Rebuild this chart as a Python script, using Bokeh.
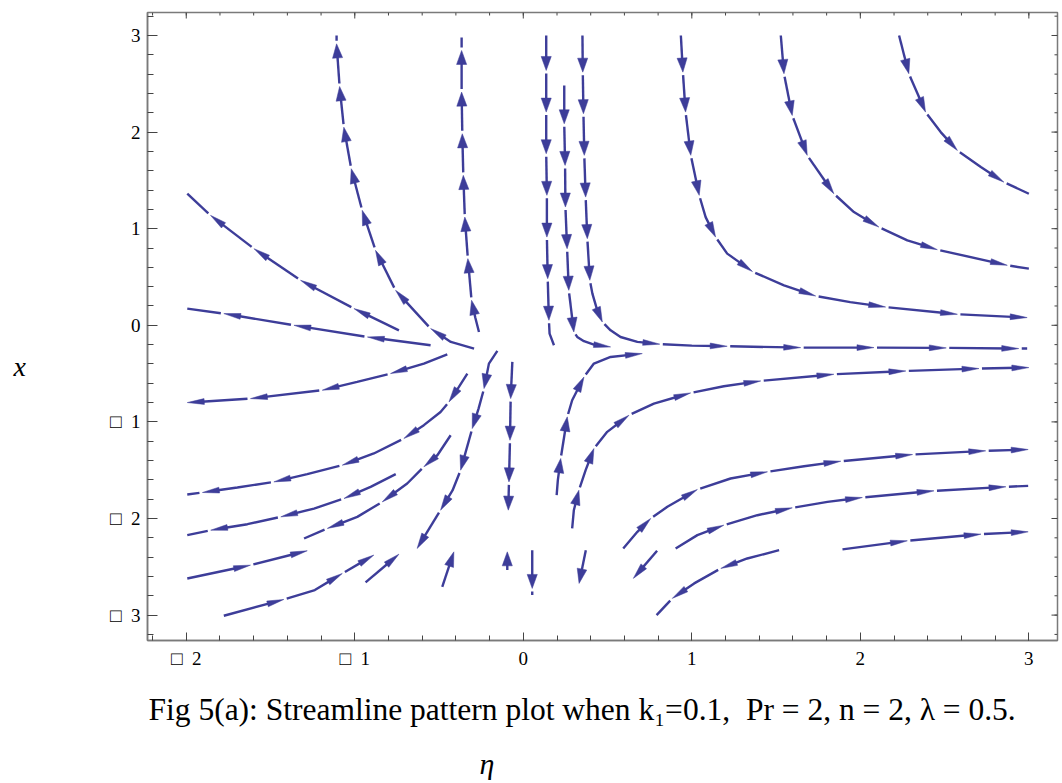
import numpy as np
from bokeh.plotting import figure
from bokeh.models import Range1d, FixedTicker, Title
from bokeh.embed import file_html
from bokeh.resources import INLINE

# ---------------- data ----------------
x_ticks = [-2, -1, 0, 1, 2, 3]
x_tick_labels = ["\u25a1\u00a0\u00a02", "\u25a1\u00a0\u00a01", "0", "1", "2", "3"]
y_ticks = [-3, -2, -1, 0, 1, 2, 3]
y_tick_labels = ["\u25a1\u00a0\u00a03", "\u25a1\u00a0\u00a02", "\u25a1\u00a0\u00a01", "0", "1", "2", "3"]

# streamlines: (eta, x, arrow-tip flag) in flow order
s_up_a = [(-0.292, -0.241, 0), (-0.43, -0.172, 0), (-0.55, -0.034, 1), (-0.649, 0.155, 0),
          (-0.758, 0.362, 1), (-0.877, 0.776, 1), (-0.956, 1.190, 1), (-1.021, 1.621, 1),
          (-1.065, 2.051, 1), (-1.090, 2.472, 1), (-1.108, 2.914, 1), (-1.108, 3.0, 0)]
s_up_b = [(-0.263, -0.069, 0), (-0.285, 0.08, 0), (-0.307, 0.259, 1), (-0.329, 0.690, 1),
          (-0.347, 1.120, 1), (-0.356, 1.552, 1), (-0.362, 1.983, 1), (-0.366, 2.414, 1),
          (-0.366, 2.845, 1), (-0.366, 2.98, 0)]
s_left_a = [(-0.738, -0.052, 0), (-1.005, 0.173, 1), (-1.322, 0.466, 1), (-1.598, 0.793, 1),
            (-1.856, 1.138, 1), (-1.994, 1.362, 0)]
s_left_b = [(-0.55, -0.207, 0), (-0.925, -0.121, 1), (-1.361, 0.0, 1), (-1.777, 0.121, 1),
            (-1.994, 0.173, 0)]
s_down_a = [(0.136, 3.0, 0), (0.136, 2.638, 1), (0.136, 2.207, 1), (0.136, 1.776, 1),
            (0.14, 1.345, 1), (0.14, 0.913, 1), (0.145, 0.483, 1), (0.152, 0.052, 1),
            (0.156, -0.086, 0), (0.182, -0.207, 0)]
s_down_b = [(0.243, 2.483, 0), (0.243, 2.086, 1), (0.248, 1.655, 1), (0.25, 1.224, 1),
            (0.26, 0.793, 1), (0.27, 0.362, 1), (0.30, -0.069, 1), (0.32, -0.12, 0),
            (0.36, -0.165, 0), (0.419, -0.2, 0), (0.518, -0.224, 1)]
s_down_c = [(0.351, 3.0, 0), (0.353, 2.62, 1), (0.357, 2.19, 1), (0.362, 1.759, 1),
            (0.37, 1.327, 1), (0.38, 0.897, 1), (0.395, 0.466, 1), (0.41, 0.328, 0),
            (0.439, 0.155, 0), (0.469, 0.034, 1), (0.518, -0.052, 0), (0.577, -0.121, 0),
            (0.677, -0.172, 0), (0.81, -0.195, 1), (1.0, -0.21, 0), (1.21, -0.217, 1),
            (1.646, -0.231, 1), (2.081, -0.231, 1), (2.51, -0.234, 1), (2.94, -0.241, 1),
            (2.99, -0.241, 0)]
s_right_a = [(0.935, 3.0, 0), (0.947, 2.62, 1), (0.963, 2.207, 1), (0.994, 1.759, 1),
             (1.044, 1.345, 1), (1.082, 1.12, 0), (1.141, 0.913, 1), (1.21, 0.742, 0),
             (1.36, 0.556, 1), (1.547, 0.414, 0), (1.735, 0.303, 1), (1.94, 0.24, 0),
             (2.15, 0.189, 1), (2.576, 0.114, 1), (2.99, 0.080, 1)]
s_right_b = [(1.528, 3.0, 0), (1.547, 2.604, 1), (1.596, 2.172, 1), (1.685, 1.759, 1),
             (1.843, 1.362, 1), (1.962, 1.172, 0), (2.11, 1.017, 1), (2.279, 0.879, 0),
             (2.457, 0.783, 1), (2.872, 0.621, 1), (3.0, 0.586, 0)]
s_right_c = [(2.23, 3.0, 0), (2.288, 2.604, 1), (2.387, 2.207, 1), (2.477, 2.0, 0),
             (2.576, 1.81, 1), (2.715, 1.638, 0), (2.852, 1.482, 1), (3.0, 1.362, 0)]
s_left_c = [(-0.451, -0.30, 0), (-0.59, -0.396, 0), (-0.788, -0.5, 1), (-0.986, -0.586, 0),
            (-1.193, -0.672, 1), (-1.619, -0.759, 1), (-1.994, -0.80, 1)]
s_left_d = [(-0.332, -0.5, 0), (-0.382, -0.638, 0), (-0.441, -0.793, 1), (-0.491, -0.897, 0),
            (-0.590, -1.034, 0), (-0.709, -1.172, 1), (-0.887, -1.327, 0), (-1.074, -1.448, 1),
            (-1.282, -1.541, 0), (-1.48, -1.621, 1), (-1.697, -1.679, 0), (-1.904, -1.731, 1),
            (-1.994, -1.752, 0)]
s_left_e = [(-0.431, -1.138, 0), (-0.51, -1.345, 0), (-0.590, -1.465, 1), (-0.689, -1.638, 0),
            (-0.837, -1.828, 1), (-0.985, -1.983, 0), (-1.163, -2.103, 1), (-1.301, -2.207, 0)]
s_left_f = [(-0.757, -1.541, 0), (-0.906, -1.672, 0), (-1.064, -1.793, 1), (-1.242, -1.897, 0),
            (-1.439, -1.983, 1), (-1.637, -2.059, 0), (-1.855, -2.121, 1), (-1.994, -2.172, 0)]
s_down_d = [(-0.154, -0.265, 0), (-0.204, -0.397, 0), (-0.233, -0.655, 1), (-0.265, -0.86, 0),
            (-0.303, -1.069, 1), (-0.372, -1.5, 1), (-0.42, -1.71, 0), (-0.491, -1.914, 1),
            (-0.630, -2.31, 1)]
s_down_e = [(-0.065, -0.379, 0), (-0.075, -0.759, 1), (-0.079, -1.19, 1), (-0.085, -1.621, 1),
            (-0.089, -1.914, 1)]
s_up_c = [(-0.095, -2.534, 0), (-0.095, -2.345, 1)]
s_down_f = [(0.053, -2.328, 0), (0.053, -2.724, 1), (0.053, -2.793, 0)]
s_up_d = [(-0.481, -2.707, 0), (-0.412, -2.345, 1)]
s_up_e = [(-0.936, -2.662, 0), (-0.738, -2.369, 1)]
s_right_d = [(-1.777, -3.007, 0), (-1.421, -2.838, 1), (-1.237, -2.741, 0), (-1.074, -2.569, 1),
             (-0.887, -2.379, 1)]
s_right_e = [(-1.994, -2.621, 0), (-1.619, -2.483, 1), (-1.282, -2.334, 1)]
s_up_f = [(0.198, -1.759, 0), (0.205, -1.603, 0), (0.222, -1.379, 1), (0.261, -0.948, 1),
          (0.29, -0.776, 0), (0.36, -0.535, 1), (0.419, -0.396, 0), (0.518, -0.328, 0),
          (0.706, -0.293, 1)]
s_right_f = [(0.29, -2.103, 0), (0.30, -1.914, 0), (0.33, -1.707, 1), (0.37, -1.5, 0),
             (0.419, -1.276, 1), (0.498, -1.103, 0), (0.627, -0.931, 1), (0.775, -0.81, 0),
             (0.993, -0.7, 1), (1.19, -0.631, 0), (1.409, -0.576, 1), (1.843, -0.507, 1),
             (2.27, -0.473, 1), (2.704, -0.448, 1), (3.0, -0.438, 1)]
s_right_g = [(0.593, -2.31, 0), (0.677, -2.138, 0), (0.756, -2.0, 1), (0.855, -1.879, 0),
             (1.033, -1.7, 1), (1.23, -1.586, 0), (1.449, -1.517, 1), (1.666, -1.459, 0),
             (1.884, -1.407, 1), (2.31, -1.338, 1), (2.744, -1.3, 1), (2.996, -1.286, 1)]
s_right_h = [(0.904, -2.31, 0), (1.033, -2.172, 0), (1.19, -2.069, 1), (1.389, -1.966, 0),
             (1.596, -1.89, 1), (1.805, -1.828, 0), (2.012, -1.783, 1), (2.437, -1.714, 1),
             (2.864, -1.672, 1), (2.996, -1.662, 0)]
s_left_g = [(0.794, -2.334, 0), (0.653, -2.62, 1)]
s_left_h = [(1.518, -2.328, 0), (1.329, -2.414, 0), (1.172, -2.517, 1), (1.014, -2.672, 0),
            (0.884, -2.827, 1), (0.791, -3.0, 0)]
s_right_i = [(1.894, -2.320, 0), (2.279, -2.231, 1), (2.716, -2.162, 1), (2.996, -2.138, 1)]
s_down_g = [(0.371, -2.328, 0), (0.331, -2.672, 1)]

streams = [s_up_a, s_up_b, s_left_a, s_left_b, s_down_a, s_down_b, s_down_c, s_right_a,
           s_right_b, s_right_c, s_left_c, s_left_d, s_left_e, s_left_f, s_down_d, s_down_e,
           s_up_c, s_down_f, s_up_d, s_up_e, s_right_d, s_right_e, s_up_f, s_right_f,
           s_right_g, s_right_h, s_left_g, s_left_h, s_right_i, s_down_g]

caption = ("Fig 5(a): Streamline pattern plot when k\u2081=0.1,\u00a0\u00a0Pr = 2, n = 2, "
           "\u03bb = 0.5.")

# ---------------- layout / style ----------------
X0, X1 = -2.23, 3.17
Y0, Y1 = -3.263, 3.238
FW, FH = 910, 628
LEFT, TOP = 147, 12
SX = FW / (X1 - X0)
SY = FH / (Y1 - Y0)
COLOR = "#3d3d99"
GAP = 3.0      # px gap after each arrow tip
HW = 0.030     # half width of arrow heads (data units)

line_xs, line_ys, head_xs, head_ys = [], [], [], []


def add_stream(pts):
    a = np.array(pts, dtype=float)
    P = np.column_stack([(a[:, 0] - X0) * SX, (a[:, 1] - Y0) * SY])
    flags = a[:, 2] > 0
    seg = np.hypot(*np.diff(P, axis=0).T)
    s = np.concatenate([[0.0], np.cumsum(seg)])
    total = s[-1]

    def at(t):
        t = min(max(t, 0.0), total)
        k = int(np.searchsorted(s, t, side="right")) - 1
        k = min(max(k, 0), len(P) - 2)
        L = s[k + 1] - s[k]
        f = (t - s[k]) / L if L > 0 else 0.0
        return P[k] + f * (P[k + 1] - P[k])

    def piece(t0, t1):
        q = [at(t0)] + [P[k] for k in range(len(P)) if t0 < s[k] < t1] + [at(t1)]
        return np.array(q)

    start = 0.0
    for i in np.where(flags)[0]:
        tip = P[i]
        back = at(s[i] - 10.0)
        d = tip - back
        d = d / np.hypot(*d)
        L = 14.0 + 3.0 * abs(d[0])
        n = np.array([-d[1], d[0]])
        hw = HW / np.hypot(n[0] / SX, n[1] / SY)
        base = tip - d * L
        tri = np.array([tip, base + n * hw, base - n * hw])
        head_xs.append(list(tri[:, 0] / SX + X0))
        head_ys.append(list(tri[:, 1] / SY + Y0))
        end = s[i] - 0.6 * L
        if end > start:
            q = piece(start, end)
            line_xs.append(list(q[:, 0] / SX + X0))
            line_ys.append(list(q[:, 1] / SY + Y0))
        start = s[i] + GAP
    if start < total - 0.5:
        q = piece(start, total)
        line_xs.append(list(q[:, 0] / SX + X0))
        line_ys.append(list(q[:, 1] / SY + Y0))


for st in streams:
    add_stream(st)

p = figure(frame_width=FW, frame_height=FH, x_range=Range1d(X0, X1), y_range=Range1d(Y0, Y1),
           output_backend="svg", toolbar_location=None,
           min_border_left=LEFT, min_border_top=TOP, min_border_right=3, min_border_bottom=143,
           background_fill_color="white", border_fill_color="white")
AX_COL = "#7a7a7a"
TK_COL = "#444444"
p.outline_line_color = AX_COL
p.outline_line_width = 1.5
p.grid.visible = False

p.multi_line(line_xs, line_ys, line_color=COLOR, line_width=2.4)
p.patches(head_xs, head_ys, fill_color=COLOR, line_color=COLOR, line_width=0.5)

x_minor = list(np.round(np.arange(-2.2, 3.21, 0.2), 2))
y_minor = list(np.round(np.arange(-3.2, 3.21, 0.2), 2))


def style(ax, tin, mtin):
    ax.axis_line_color = AX_COL
    ax.axis_line_width = 1.5
    ax.major_tick_in = tin
    ax.major_tick_out = 0
    ax.minor_tick_in = mtin
    ax.minor_tick_out = 0
    ax.major_tick_line_color = TK_COL
    ax.minor_tick_line_color = TK_COL
    ax.major_label_text_font = "Liberation Serif"
    ax.major_label_text_font_size = "19px"
    ax.major_label_text_color = "black"
    ax.major_label_standoff = 7


xa = p.xaxis[0]
xa.ticker = FixedTicker(ticks=x_ticks, minor_ticks=x_minor)
xa.major_label_overrides = {t: l for t, l in zip(x_ticks, x_tick_labels)}
style(xa, 8, 5)
ya = p.yaxis[0]
ya.ticker = FixedTicker(ticks=y_ticks, minor_ticks=y_minor)
ya.major_label_overrides = {t: l for t, l in zip(y_ticks, y_tick_labels)}
style(ya, 10, 6)
# name of the vertical axis: horizontal, pushed far left and a little below centre
ya.axis_label = "\nx"
ya.axis_label_orientation = "horizontal"
ya.axis_label_text_font = "Liberation Serif"
ya.axis_label_text_font_style = "italic"
ya.axis_label_text_font_size = "28px"
ya.axis_label_text_line_height = 2.55
ya.axis_label_text_color = "black"
ya.axis_label_standoff = 81

# ticks of the top and right frame edges (mirror of the axes' ticks)
tx = [t for t in x_minor] + x_ticks
tl = [3.0] * len(x_minor) + [6.0] * len(x_ticks)
p.segment(x0=tx, y0=[Y1] * len(tx), x1=tx, y1=[Y1 - l / SY for l in tl],
          line_color=TK_COL, line_width=1)
ty = [t for t in y_minor] + y_ticks
tl2 = [3.0] * len(y_minor) + [6.0] * len(y_ticks)
p.segment(x0=[X1] * len(ty), y0=ty, x1=[X1 - l / SX for l in tl2], y1=ty,
          line_color=TK_COL, line_width=1)

# caption and axis name below the plot
p.add_layout(Title(text=caption, align="left", offset=1, standoff=37,
                   text_font="Liberation Serif", text_font_size="31.5px",
                   text_font_style="normal", text_color="black"), "below")
p.add_layout(Title(text="\u03b7", align="left", offset=332, standoff=-2,
                   text_font="Liberation Serif", text_font_size="30px",
                   text_font_style="italic", text_color="black"), "below")

open("out.html", "w").write(file_html(p, INLINE))
